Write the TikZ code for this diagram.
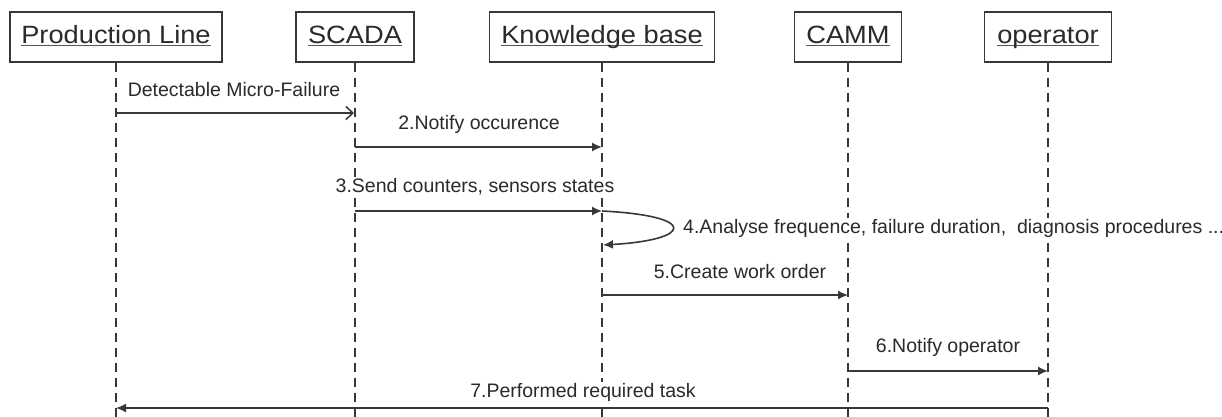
\documentclass[tikz,border=0pt]{standalone}
\usepackage{fontspec}
\usepackage{graphicx}
\setmainfont{Liberation Sans}
\usetikzlibrary{arrows.meta}
\definecolor{ink}{HTML}{2A2A2A}
\definecolor{rule}{HTML}{383838}
% object name, slightly widened, underlined at a fixed distance below the baseline
\newcommand{\objname}[1]{\scalebox{1.09}[1]{\setbox0\hbox{#1}\rlap{\color{rule!85}\rule[-3pt]{\wd0}{1.2pt}}\box0}}
\tikzset{
  actor/.style={draw=rule, line width=1.4pt, fill=white, minimum height=50pt,
    text height=18pt, text depth=5pt,
    inner xsep=6pt, text=ink, font=\fontsize{25}{28}\selectfont},
  lifeline/.style={draw=rule, line width=1.2pt, dash pattern=on 9pt off 6pt},
  msg/.style={draw=rule, line width=1.6pt, -{Latex[length=10pt,width=9pt]}},
  asyncmsg/.style={draw=rule, line width=1.5pt, -{Straight Barb[length=7pt,width=13pt]}},
  lbl/.style={text=ink, font=\fontsize{19.5}{21}\selectfont, fill=white, inner sep=1pt},
}
\begin{document}
\begin{tikzpicture}[x=1pt,y=-1pt]
\useasboundingbox (0,0) rectangle (1222,417);

% objects
\node[actor, minimum width=212pt] (pl) at (116,37) {\objname{Production Line}};
\node[actor, minimum width=118pt] (sc) at (355,37) {\objname{SCADA}};
\node[actor, minimum width=225pt] (kb) at (602,37) {\objname{Knowledge base}};
\node[actor, minimum width=107pt] (ca) at (848,37) {\objname{CAMM}};
\node[actor, minimum width=127pt] (op) at (1048,37) {\objname{operator}};

% lifeline ends
\coordinate (plEnd) at (116,417);
\coordinate (scEnd) at (355,417);
\coordinate (kbEnd) at (602,417);
\coordinate (caEnd) at (848,417);
\coordinate (opEnd) at (1048,417);
\draw[lifeline] (pl.south) -- (plEnd);
\draw[lifeline] (sc.south) -- (scEnd);
\draw[lifeline] (kb.south) -- (kbEnd);
\draw[lifeline] (ca.south) -- (caEnd);
\draw[lifeline] (op.south) -- (opEnd);

% message anchors on the lifelines
\coordinate (m1a) at (116,113); \coordinate (m1b) at (354,113);
\coordinate (m2a) at (355,147); \coordinate (m2b) at (602,147);
\coordinate (m3a) at (355,211); \coordinate (m3b) at (602,211);
\coordinate (m4a) at (602,211); \coordinate (m4b) at (603,245);
\coordinate (m5a) at (602,295); \coordinate (m5b) at (848,295);
\coordinate (m6a) at (848,371); \coordinate (m6b) at (1048,371);
\coordinate (m7a) at (1048,408); \coordinate (m7b) at (116,408);

% labels first, so that their white ground hides the lifelines behind them
\node[lbl] (t1) at (234,90) {Detectable Micro-Failure};
\node[lbl] (t2) at (479,124) {2.Notify occurence};
\node[lbl] (t3) at (475,187) {3.Send counters, sensors states};
\node[lbl, anchor=west] (t4) at (682,228) {4.Analyse frequence, failure duration,\ \ diagnosis procedures ...};
\node[lbl] (t5) at (740,272) {5.Create work order};
\node[lbl] (t6) at (948,347) {6.Notify operator};
\node[lbl] (t7) at (583,392) {7.Performed required task};

% messages
\draw[asyncmsg] (m1a) -- (m1b);
\draw[msg] (m2a) -- (m2b);
\draw[msg] (m3a) -- (m3b);
\draw[msg] (m4a) .. controls (700,216) and (692,240) .. (m4b);
\draw[msg] (m5a) -- (m5b);
\draw[msg] (m6a) -- (m6b);
\draw[msg] (m7a) -- (m7b);
\end{tikzpicture}
\end{document}
